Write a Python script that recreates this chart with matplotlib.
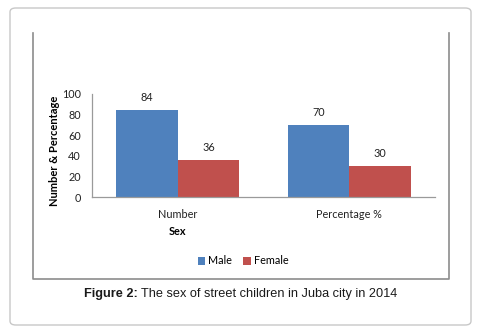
import matplotlib
matplotlib.use("Agg")
import matplotlib.pyplot as plt
import numpy as np
from matplotlib.patches import FancyBboxPatch, Patch
from matplotlib.lines import Line2D

# Data
categories = ["Number", "Percentage %"]
male = [84, 70]
female = [36, 30]
series_names = ["Male", "Female"]
colors = ["#4F81BD", "#C0504D"]
yticks = [0, 20, 40, 60, 80, 100]

chart_font = "Lato"
caption_font = "Liberation Sans"

fig = plt.figure(figsize=(4.82, 3.34), dpi=100)
W, H = 482, 334

def fx(px):
    return px / W

def fy(py):
    return 1 - py / H

# outer rounded frame
fig.patches.append(FancyBboxPatch((fx(10), fy(325)), fx(461), 317 / H,
                                  boxstyle="round,pad=0,rounding_size=0.012",
                                  transform=fig.transFigure, fill=False,
                                  edgecolor="#c8c8c8", linewidth=1.0))
# inner chart frame (open on top)
frame_col = "#8c8c8c"
fig.lines.append(Line2D([fx(33), fx(33), fx(449), fx(449)],
                        [fy(33), fy(279), fy(279), fy(33)],
                        transform=fig.transFigure, color=frame_col, linewidth=1.2))

ax = fig.add_axes([fx(92), fy(197), fx(435) - fx(92), fy(94) - fy(197)])
x = np.arange(len(categories))
w = 0.36
b1 = ax.bar(x - w / 2, male, w, color=colors[0], label=series_names[0])
b2 = ax.bar(x + w / 2, female, w, color=colors[1], label=series_names[1])
for bars in (b1, b2):
    for r in bars:
        ax.text(r.get_x() + r.get_width() / 2, r.get_height() + 7, f"{r.get_height():.0f}",
                ha="center", va="bottom", fontsize=7.8, family=chart_font, color="#222222")

ax.set_xlim(-0.5, 1.5)
ax.set_ylim(0, 100)
ax.set_yticks(yticks)
ax.set_xticks(x)
ax.set_xticklabels(categories, fontsize=7.8, family=chart_font)
ax.set_yticklabels([str(t) for t in yticks], fontsize=7.8, family=chart_font)
ax.tick_params(axis="both", length=0, colors="#222222")
ax.tick_params(axis="y", pad=8)
ax.tick_params(axis="x", pad=9)
for s in ("top", "right"):
    ax.spines[s].set_visible(False)
for s in ("left", "bottom"):
    ax.spines[s].set_color("#9a9a9a")
    ax.spines[s].set_linewidth(0.9)
ax.set_ylabel("Number & Percentage", fontsize=8, fontweight="bold", family=chart_font)
ax.yaxis.set_label_coords(-0.093, 0.45)
ax.set_xlabel("Sex", fontsize=7.8, fontweight="bold", family=chart_font)
ax.xaxis.set_label_coords(0.25, -0.28)

handles = [Patch(facecolor=c, label=n) for c, n in zip(colors, series_names)]
fig.legend(handles=handles, loc="center", bbox_to_anchor=(fx(243), fy(261)), ncol=2,
           frameon=False, prop={"family": chart_font, "size": 7.8},
           handlelength=0.7, handleheight=0.7, handletextpad=0.3, columnspacing=1.0)

# caption: bold prefix then normal text
t1 = fig.text(fx(84), fy(294), "Figure 2:", fontsize=9.2, fontweight="bold",
              family=caption_font, va="center", ha="left", color="#1a1a1a")
fig.canvas.draw()
bb = t1.get_window_extent()
fig.text(bb.x1 / W + fx(3), fy(294), "The sex of street children in Juba city in 2014",
         fontsize=9.2, family=caption_font, va="center", ha="left", color="#1a1a1a")

fig.savefig("out.png", dpi=100)
